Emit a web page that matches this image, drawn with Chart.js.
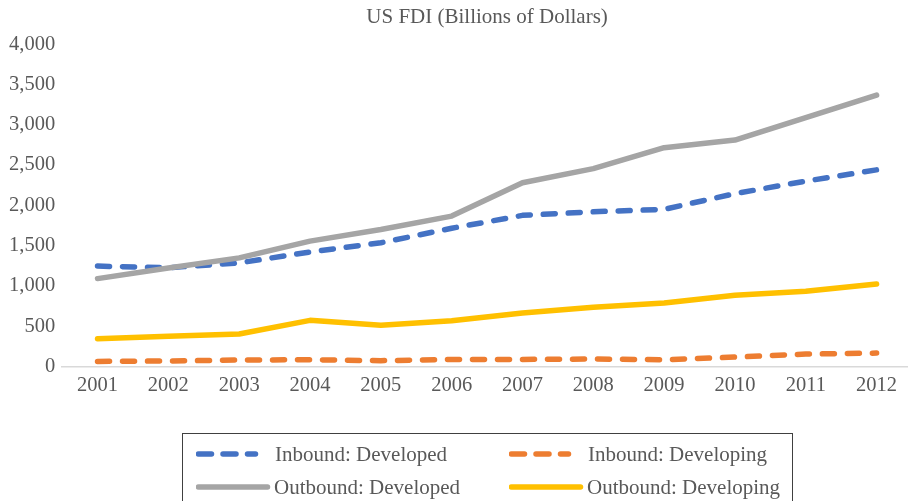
<!DOCTYPE html>
<html>
<head>
    <title>US FDI</title>
    <script src="https://cdn.jsdelivr.net/npm/chart.js"></script>
    <style>
        body { margin: 0; overflow: hidden; background: #fff; }
        #wrap { position: relative; width: 914px; height: 409px; }
        #legend {
            position: absolute; left: 182px; top: 433px; width: 611px; height: 90px;
            border: 1.5px solid #404040; box-sizing: border-box;
            font-family: "Liberation Serif", "Times New Roman", serif; font-size: 21px; color: #595959;
        }
        .item { position: absolute; height: 24px; line-height: 24px; white-space: nowrap; }
        .item canvas { position: absolute; left: 0; top: 2px; }
        .item span { position: absolute; }
    </style>
</head>
<body>
    <div id="wrap"><canvas id="fdiChart"></canvas></div>
    <div id="legend"></div>

    <script>
        const years = ['2001', '2002', '2003', '2004', '2005', '2006', '2007', '2008', '2009', '2010', '2011', '2012'];
        const inboundDeveloped   = [1245, 1225, 1285, 1420, 1535, 1715, 1875, 1920, 1950, 2145, 2300, 2440];
        const inboundDeveloping  = [62, 67, 79, 83, 71, 87, 87, 91, 83, 116, 153, 165];
        const outboundDeveloped  = [1090, 1222, 1347, 1555, 1700, 1866, 2280, 2455, 2715, 2810, 3088, 3367];
        const outboundDeveloping = [344, 373, 402, 572, 510, 568, 663, 734, 787, 883, 933, 1024];
        const yTicks = [0, 500, 1000, 1500, 2000, 2500, 3000, 3500, 4000];

        const serif = '"Liberation Serif", "Times New Roman", serif';
        const textColor = '#595959';

        const series = [
            { label: 'Inbound: Developed',   data: inboundDeveloped,   color: '#4472C4', dashed: true,  order: 4 },
            { label: 'Inbound: Developing',  data: inboundDeveloping,  color: '#ED7D31', dashed: true,  order: 3 },
            { label: 'Outbound: Developed',  data: outboundDeveloped,  color: '#A5A5A5', dashed: false, order: 2 },
            { label: 'Outbound: Developing', data: outboundDeveloping, color: '#FFC000', dashed: false, order: 1 }
        ];

        const ctx = document.getElementById('fdiChart').getContext('2d');
        const chart = new Chart(ctx, {
            type: 'line',
            data: {
                labels: years,
                datasets: series.map(s => ({
                    label: s.label,
                    data: s.data,
                    borderColor: s.color,
                    backgroundColor: s.color,
                    borderWidth: 5.5,
                    borderDash: s.dashed ? [12, 13] : [],
                    borderCapStyle: 'round',
                    borderJoinStyle: 'round',
                    pointRadius: 0,
                    tension: 0,
                    fill: false,
                    order: s.order
                }))
            },
            options: {
                responsive: true,
                maintainAspectRatio: false,
                animation: false,
                layout: { padding: { left: 2, right: 2, top: 0, bottom: 4 } },
                plugins: {
                    legend: { display: false },
                    tooltip: { enabled: false },
                    title: {
                        display: true,
                        fullSize: false,
                        text: 'US FDI (Billions of Dollars)',
                        color: textColor,
                        font: { family: serif, size: 21, weight: 'normal' },
                        padding: { top: 5, bottom: 14 }
                    }
                },
                scales: {
                    x: {
                        offset: true,
                        grid: { display: false, drawTicks: false },
                        border: { display: true, color: '#D9D9D9', width: 1.5 },
                        ticks: { color: textColor, font: { family: serif, size: 20.5 }, padding: 7, maxRotation: 0 }
                    },
                    y: {
                        min: 0,
                        max: 4000,
                        afterBuildTicks: axis => { axis.ticks = yTicks.map(v => ({ value: v })); },
                        grid: { display: false, drawTicks: false },
                        border: { display: false },
                        ticks: {
                            color: textColor,
                            font: { family: serif, size: 20.5 },
                            padding: 7,
                            callback: v => v.toLocaleString('en-US')
                        }
                    }
                }
            }
        });

        // boxed legend in two columns, like the original
        const legend = document.getElementById('legend');
        const cols = [13, 326];
        const rows = [8, 41];
        series.forEach((s, i) => {
            const item = document.createElement('div');
            item.className = 'item';
            item.style.left = cols[i % 2] + 'px';
            item.style.top = rows[Math.floor(i / 2)] + 'px';

            const c = document.createElement('canvas');
            c.width = 80; c.height = 20;
            const g = c.getContext('2d');
            g.strokeStyle = s.color;
            g.lineWidth = 5.5;
            g.lineCap = 'round';
            g.beginPath();
            if (s.dashed) {
                g.setLineDash([13, 11.5]);
                g.moveTo(2.5, 10); g.lineTo(59.5, 10);
            } else {
                g.moveTo(2.5, 10); g.lineTo(71.5, 10);
            }
            g.stroke();
            item.appendChild(c);

            const t = document.createElement('span');
            t.textContent = s.label;
            t.style.left = (s.dashed ? 79 : 78) + 'px';
            item.appendChild(t);
            legend.appendChild(item);
        });
    </script>
</body>
</html>
